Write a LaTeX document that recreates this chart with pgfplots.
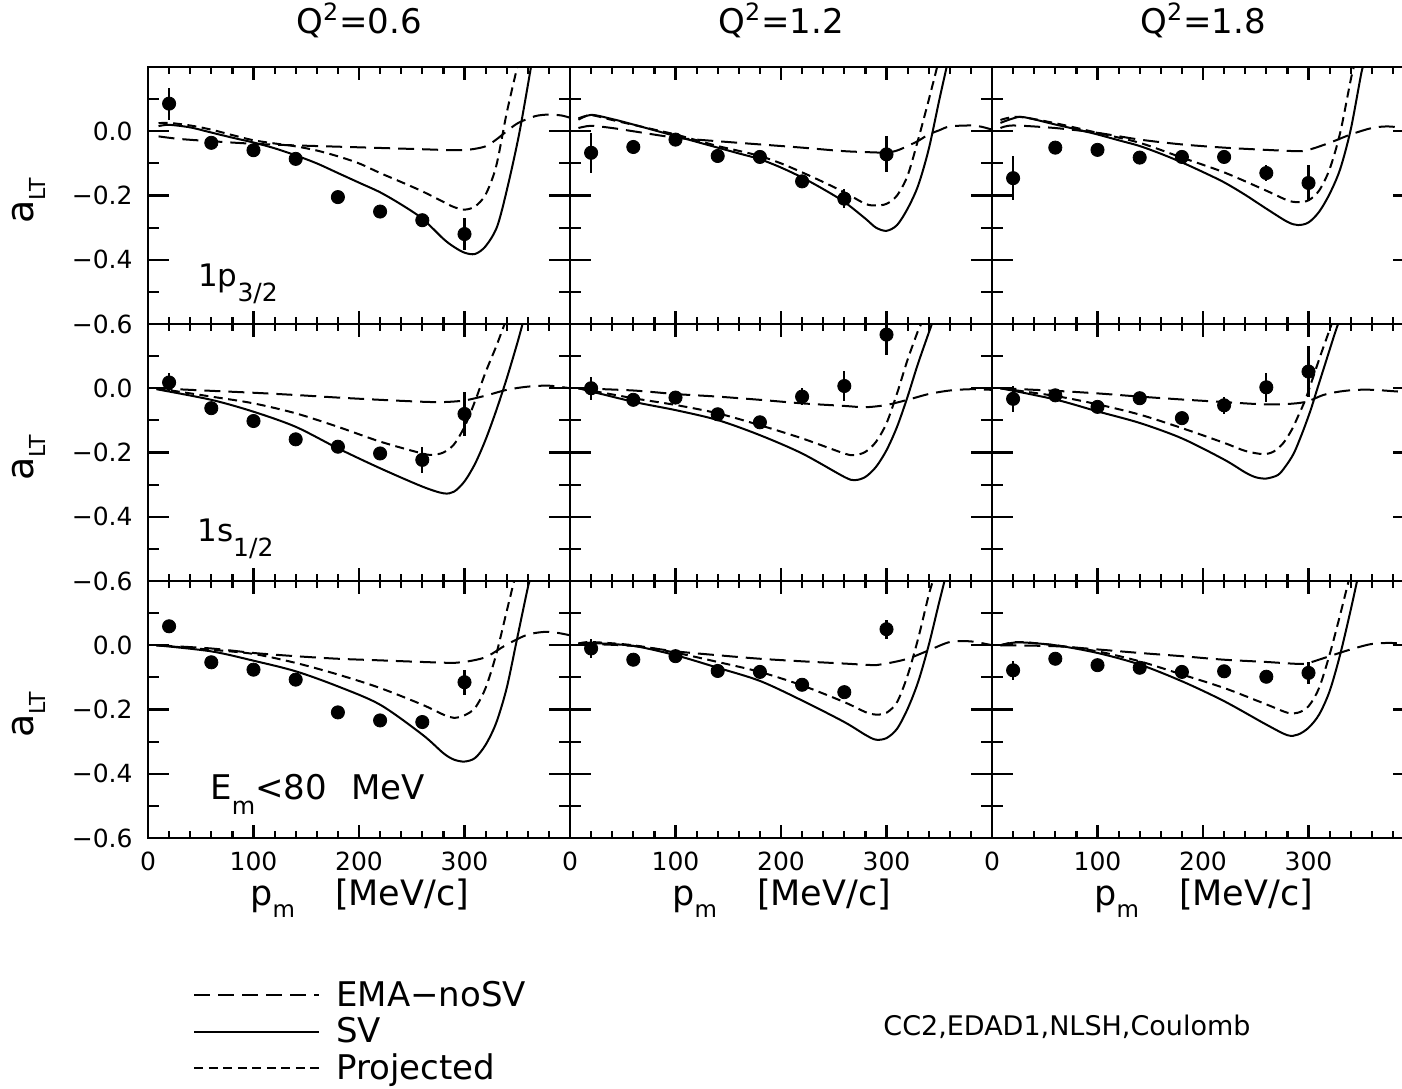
\documentclass[border=0pt]{standalone}
\usepackage{pgfplots}
\pgfplotsset{compat=1.18}
\usepackage{fontspec}
\setmainfont{DejaVu Sans}

\pgfplotsset{
  panel/.style={
    scale only axis, width=211pt, height=128.5pt, anchor=north west,
    xmin=0, xmax=400, ymin=-0.6, ymax=0.2,
    xtick={0,100,200,300,400}, minor x tick num=4,
    ytick={-0.6,-0.4,-0.2,0,0.2}, minor y tick num=1,
    xticklabels={}, yticklabels={},
    tick align=inside, tick pos=both,
    axis line style={line width=1.4pt},
    major tick length=10.5pt, minor tick length=5.5pt,
    every tick/.style={black, line width=1.1pt},
    xtick style={/pgfplots/major tick length=6.5pt, /pgfplots/minor tick length=3.5pt},
    tick label style={font=\fontsize{12.5}{14}\selectfont},
    yticklabel style={anchor=east, inner sep=0pt, xshift=-7.5pt},
    xticklabel style={anchor=north, inner sep=0pt, yshift=-7pt},
    title style={font=\fontsize{17}{20}\selectfont, anchor=base, at={(axis description cs:0.5,1)}, yshift=11pt},
  },
  leftcol/.style={
    yticklabels={−0.6,−0.4,−0.2,0.0,{}},
    ylabel={a\raisebox{-6pt}{\fontsize{11}{12}\selectfont LT}},
    ylabel style={at={(axis description cs:-0.2725,0.48)}, anchor=base, font=\fontsize{19}{21}\selectfont, inner sep=0pt},
  },
  bottomrow/.style={
    xticklabels={0,100,200,300,{}},
    xlabel={p\raisebox{-6pt}{\fontsize{11.5}{12}\selectfont m}\hspace{20pt}[MeV/c]},
    xlabel style={at={(axis description cs:0.2417,-0.261)}, anchor=base west, font=\fontsize{17.5}{20}\selectfont, inner sep=0pt},
  },
  ema/.style={black, line width=1pt, dash pattern=on 8pt off 4pt, smooth, tension=0.5, no markers},
  sv/.style={black, line width=1pt, solid, smooth, tension=0.5, no markers},
  proj/.style={black, line width=1pt, dash pattern=on 4.5pt off 2.75pt, smooth, tension=0.5, no markers},
  pts/.style={black, only marks, mark=*, mark size=3.3pt, mark options={solid, fill=black},
    error bars/.cd, y dir=both, y explicit, error mark=none,
    error bar style={line width=1.1pt, solid, black}},
}

\begin{document}
\begin{tikzpicture}

% ---------------- row 1: 1p3/2 ----------------
\begin{axis}[panel, leftcol, at={(74pt,-33.5pt)}, title={Q\textsuperscript{2}=0.6}]
\addplot[ema] coordinates {(10,-0.016)(30,-0.024)(60,-0.031)(100,-0.039)(140,-0.044)(180,-0.048)(220,-0.052)(260,-0.056)(290,-0.059)(305,-0.057)(320,-0.047)(330,-0.026)(340,0.0)(351,0.026)(367,0.047)(380,0.052)(392,0.049)(400,0.042)};
\addplot[sv] coordinates {(10,0.016)(20,0.02)(40,0.012)(60,-0.004)(80,-0.02)(100,-0.035)(120,-0.053)(140,-0.075)(160,-0.1)(180,-0.13)(200,-0.16)(220,-0.19)(240,-0.228)(260,-0.272)(280,-0.335)(290,-0.36)(300,-0.378)(310,-0.382)(320,-0.358)(331,-0.296)(341,-0.171)(352,-0.005)(363,0.2)};
\addplot[proj] coordinates {(10,0.025)(20,0.026)(40,0.018)(60,0.005)(80,-0.012)(100,-0.028)(120,-0.038)(140,-0.047)(160,-0.06)(180,-0.078)(200,-0.1)(220,-0.13)(240,-0.158)(260,-0.187)(280,-0.22)(290,-0.236)(300,-0.244)(310,-0.234)(320,-0.197)(330,-0.109)(340,0.057)(350,0.2)};
\addplot[pts] coordinates {(20,0.086)+-(0,0.05) (60,-0.036)+-(0,0.01) (100,-0.059)+-(0,0.01) (140,-0.086)+-(0,0.012) (180,-0.205)+-(0,0.01) (220,-0.250)+-(0,0.01) (260,-0.277)+-(0,0.02) (300,-0.320)+-(0,0.05)};
\node[anchor=base west, inner sep=0pt, font=\fontsize{15.5}{18}\selectfont] at (rel axis cs:0.118,0.144) {1p\raisebox{-7.5pt}{\fontsize{12.5}{14}\selectfont 3/2}};
\end{axis}

\begin{axis}[panel, at={(285pt,-33.5pt)}, title={Q\textsuperscript{2}=1.2}]
\addplot[ema] coordinates {(8,0.01)(20,0.017)(40,0.01)(60,0.0)(100,-0.02)(140,-0.031)(180,-0.041)(220,-0.051)(260,-0.062)(290,-0.066)(300,-0.067)(310,-0.06)(320,-0.046)(330,-0.03)(340,-0.01)(350,0.003)(360,0.015)(380,0.018)(390,0.014)(400,0.005)};
\addplot[sv] coordinates {(8,0.036)(20,0.051)(40,0.038)(60,0.021)(80,0.003)(100,-0.015)(120,-0.033)(140,-0.051)(160,-0.069)(180,-0.087)(200,-0.113)(220,-0.144)(240,-0.18)(260,-0.22)(280,-0.272)(290,-0.30)(300,-0.31)(310,-0.292)(320,-0.241)(330,-0.169)(340,-0.056)(350,0.097)(357,0.2)};
\addplot[proj] coordinates {(8,0.04)(20,0.05)(40,0.035)(60,0.02)(80,0.005)(100,-0.01)(120,-0.028)(140,-0.046)(160,-0.061)(180,-0.077)(200,-0.1)(220,-0.128)(240,-0.158)(260,-0.19)(280,-0.226)(290,-0.231)(300,-0.226)(310,-0.2)(320,-0.138)(330,-0.026)(340,0.097)(348,0.2)};
\addplot[pts] coordinates {(20,-0.067)+-(0,0.062) (60,-0.049)+-(0,0.01) (100,-0.026)+-(0,0.01) (140,-0.077)+-(0,0.01) (180,-0.080)+-(0,0.012) (220,-0.156)+-(0,0.02) (260,-0.210)+-(0,0.03) (300,-0.072)+-(0,0.056)};
\end{axis}

\begin{axis}[panel, at={(496pt,-33.5pt)}, title={Q\textsuperscript{2}=1.8}]
\addplot[ema] coordinates {(8,0.01)(20,0.018)(60,0.01)(100,-0.005)(140,-0.026)(180,-0.041)(220,-0.051)(260,-0.058)(290,-0.062)(300,-0.058)(320,-0.036)(340,-0.01)(360,0.01)(375,0.015)(390,0.01)(400,0.003)};
\addplot[sv] coordinates {(8,0.026)(20,0.04)(30,0.044)(60,0.021)(80,0.006)(100,-0.01)(120,-0.028)(140,-0.046)(160,-0.07)(180,-0.097)(200,-0.127)(220,-0.159)(240,-0.198)(260,-0.241)(280,-0.282)(290,-0.292)(300,-0.284)(310,-0.251)(320,-0.195)(330,-0.118)(340,0.005)(350,0.18)(352,0.2)};
\addplot[proj] coordinates {(8,0.035)(25,0.045)(60,0.025)(100,-0.005)(140,-0.036)(180,-0.082)(220,-0.128)(260,-0.185)(280,-0.215)(290,-0.221)(300,-0.215)(310,-0.185)(320,-0.118)(330,-0.005)(340,0.16)(343,0.2)};
\addplot[pts] coordinates {(20,-0.146)+-(0,0.068) (60,-0.051)+-(0,0.015) (100,-0.058)+-(0,0.01) (140,-0.082)+-(0,0.01) (180,-0.080)+-(0,0.01) (220,-0.080)+-(0,0.01) (260,-0.130)+-(0,0.025) (300,-0.161)+-(0,0.056)};
\end{axis}

% ---------------- row 2: 1s1/2 ----------------
\begin{axis}[panel, leftcol, at={(74pt,-162pt)}]
\addplot[ema] coordinates {(8,0.0)(60,-0.008)(100,-0.014)(140,-0.021)(180,-0.029)(220,-0.036)(260,-0.042)(280,-0.043)(300,-0.038)(320,-0.023)(340,-0.005)(360,0.005)(380,0.008)(400,0.0)};
\addplot[sv] coordinates {(8,-0.003)(60,-0.036)(100,-0.073)(140,-0.12)(180,-0.187)(220,-0.249)(260,-0.306)(280,-0.327)(290,-0.322)(300,-0.29)(310,-0.235)(320,-0.16)(330,-0.07)(340,0.03)(350,0.14)(355,0.2)};
\addplot[proj] coordinates {(8,0.0)(60,-0.026)(100,-0.047)(140,-0.078)(180,-0.12)(220,-0.166)(260,-0.203)(270,-0.207)(280,-0.2)(290,-0.175)(300,-0.12)(310,-0.04)(320,0.05)(330,0.13)(338,0.2)};
\addplot[pts] coordinates {(20,0.018)+-(0,0.03) (60,-0.062)+-(0,0.01) (100,-0.102)+-(0,0.012) (140,-0.159)+-(0,0.01) (180,-0.182)+-(0,0.012) (220,-0.203)+-(0,0.02) (260,-0.223)+-(0,0.04) (300,-0.080)+-(0,0.068)};
\node[anchor=base west, inner sep=0pt, font=\fontsize{15.5}{18}\selectfont] at (rel axis cs:0.116,0.152) {1s\raisebox{-7.5pt}{\fontsize{12.5}{14}\selectfont 1/2}};
\end{axis}

\begin{axis}[panel, at={(285pt,-162pt)}]
\addplot[ema] coordinates {(8,0.0)(60,-0.007)(100,-0.018)(140,-0.026)(180,-0.036)(220,-0.047)(260,-0.055)(280,-0.059)(300,-0.052)(320,-0.036)(340,-0.018)(360,-0.007)(380,-0.003)(400,-0.005)};
\addplot[sv] coordinates {(8,0.0)(60,-0.042)(100,-0.068)(140,-0.099)(180,-0.146)(220,-0.203)(260,-0.276)(270,-0.286)(280,-0.276)(290,-0.245)(300,-0.193)(310,-0.12)(320,-0.026)(330,0.078)(343,0.2)};
\addplot[proj] coordinates {(8,0.0)(60,-0.031)(100,-0.052)(140,-0.078)(180,-0.115)(220,-0.156)(260,-0.203)(270,-0.208)(280,-0.198)(290,-0.167)(300,-0.109)(310,-0.016)(320,0.089)(330,0.18)(333,0.2)};
\addplot[pts] coordinates {(20,0.0)+-(0,0.036) (60,-0.036)+-(0,0.01) (100,-0.029)+-(0,0.01) (140,-0.081)+-(0,0.01) (180,-0.106)+-(0,0.015) (220,-0.026)+-(0,0.027) (260,0.007)+-(0,0.046) (300,0.167)+-(0,0.063)};
\end{axis}

\begin{axis}[panel, at={(496pt,-162pt)}]
\addplot[ema] coordinates {(8,0.0)(60,-0.008)(100,-0.016)(140,-0.026)(180,-0.035)(220,-0.043)(257,-0.05)(280,-0.049)(298,-0.042)(314,-0.021)(330,-0.01)(346,-0.005)(362,-0.005)(384,-0.01)(400,-0.012)};
\addplot[sv] coordinates {(8,0.0)(60,-0.035)(100,-0.072)(140,-0.108)(180,-0.156)(220,-0.222)(240,-0.262)(250,-0.277)(260,-0.281)(271,-0.27)(278,-0.244)(286,-0.203)(294,-0.14)(302,-0.068)(308,-0.005)(316,0.078)(324,0.161)(328,0.2)};
\addplot[proj] coordinates {(8,0.0)(60,-0.024)(100,-0.05)(140,-0.082)(180,-0.124)(220,-0.17)(240,-0.195)(257,-0.205)(267,-0.197)(276,-0.171)(284,-0.13)(290,-0.088)(297,-0.036)(303,0.021)(311,0.099)(320,0.182)(322,0.2)};
\addplot[pts] coordinates {(20,-0.033)+-(0,0.04) (60,-0.022)+-(0,0.012) (100,-0.058)+-(0,0.01) (140,-0.031)+-(0,0.012) (180,-0.093)+-(0,0.01) (220,-0.053)+-(0,0.027) (260,0.003)+-(0,0.045) (300,0.052)+-(0,0.08)};
\end{axis}

% ---------------- row 3: Em < 80 MeV ----------------
\begin{axis}[panel, leftcol, bottomrow, at={(74pt,-290.5pt)},
  legend style={draw=none, fill=none, at={(axis description cs:0.1066,-0.5405)}, anchor=north west,
    inner sep=0pt, row sep=0pt, font=\fontsize{17}{19}\selectfont},
  legend cell align=left,
  legend image code/.code={\draw[#1] (0pt,0pt) -- (62.5pt,0pt); \path (68.5pt,0pt);}]
\addplot[ema] coordinates {(8,0.0)(60,-0.010)(100,-0.024)(140,-0.034)(180,-0.042)(220,-0.047)(260,-0.052)(290,-0.055)(300,-0.052)(320,-0.037)(340,0.002)(360,0.033)(380,0.042)(400,0.031)};
\addlegendentry{EMA−noSV}
\addplot[sv] coordinates {(8,0.0)(60,-0.019)(100,-0.048)(140,-0.081)(180,-0.128)(220,-0.185)(260,-0.278)(280,-0.336)(290,-0.356)(300,-0.362)(310,-0.351)(320,-0.31)(330,-0.242)(340,-0.133)(350,0.023)(360,0.179)(362,0.2)};
\addlegendentry{SV}
\addplot[proj] coordinates {(8,0.0)(60,-0.014)(100,-0.027)(140,-0.055)(180,-0.091)(220,-0.133)(260,-0.185)(280,-0.216)(290,-0.226)(300,-0.218)(310,-0.195)(320,-0.133)(330,-0.029)(340,0.106)(347,0.2)};
\addlegendentry{Projected}
\addplot[forget plot, pts] coordinates {(20,0.059)+-(0,0.02) (60,-0.053)+-(0,0.01) (100,-0.076)+-(0,0.01) (140,-0.107)+-(0,0.01) (180,-0.209)+-(0,0.01) (220,-0.234)+-(0,0.01) (260,-0.239)+-(0,0.01) (300,-0.115)+-(0,0.039)};
\node[anchor=base west, inner sep=0pt, font=\fontsize{17}{20}\selectfont] at (rel axis cs:0.147,0.148) {E\raisebox{-7.5pt}{\fontsize{12}{13}\selectfont m}<80\hspace{12pt}MeV};
\end{axis}

\begin{axis}[panel, bottomrow, at={(285pt,-290.5pt)}]
\addplot[ema] coordinates {(8,0.005)(60,-0.002)(100,-0.019)(140,-0.031)(180,-0.042)(220,-0.05)(260,-0.057)(290,-0.062)(300,-0.057)(320,-0.042)(340,-0.016)(360,0.01)(380,0.012)(400,0.0)};
\addplot[sv] coordinates {(8,0.005)(20,0.007)(60,-0.002)(100,-0.031)(140,-0.07)(180,-0.111)(220,-0.172)(260,-0.239)(280,-0.279)(290,-0.294)(300,-0.289)(310,-0.26)(320,-0.198)(330,-0.114)(340,0.0)(350,0.135)(355,0.2)};
\addplot[proj] coordinates {(8,0.005)(20,0.01)(60,0.0)(100,-0.023)(140,-0.052)(180,-0.083)(220,-0.125)(260,-0.177)(280,-0.208)(290,-0.216)(300,-0.21)(310,-0.177)(320,-0.094)(330,0.021)(340,0.156)(344,0.2)};
\addplot[pts] coordinates {(20,-0.010)+-(0,0.03) (60,-0.045)+-(0,0.01) (100,-0.034)+-(0,0.01) (140,-0.080)+-(0,0.01) (180,-0.083)+-(0,0.01) (220,-0.123)+-(0,0.01) (260,-0.146)+-(0,0.01) (300,0.050)+-(0,0.03)};
\end{axis}

\begin{axis}[panel, bottomrow, at={(496pt,-290.5pt)}]
\addplot[ema] coordinates {(8,0.0)(60,-0.003)(100,-0.013)(140,-0.024)(180,-0.034)(220,-0.045)(260,-0.052)(290,-0.058)(300,-0.055)(320,-0.034)(340,-0.013)(360,0.004)(380,0.007)(400,0.0)};
\addplot[sv] coordinates {(8,0.0)(25,0.009)(60,0.0)(100,-0.024)(140,-0.06)(180,-0.112)(220,-0.174)(260,-0.247)(280,-0.28)(290,-0.278)(300,-0.257)(310,-0.216)(320,-0.143)(330,-0.029)(340,0.11)(346,0.2)};
\addplot[proj] coordinates {(8,0.0)(25,0.01)(60,0.0)(100,-0.019)(140,-0.05)(180,-0.091)(220,-0.133)(260,-0.184)(280,-0.21)(290,-0.21)(300,-0.19)(310,-0.133)(320,-0.029)(330,0.095)(338,0.2)};
\addplot[pts] coordinates {(20,-0.078)+-(0,0.03) (60,-0.042)+-(0,0.01) (100,-0.062)+-(0,0.01) (140,-0.070)+-(0,0.01) (180,-0.083)+-(0,0.01) (220,-0.081)+-(0,0.01) (260,-0.098)+-(0,0.01) (300,-0.086)+-(0,0.035)};
\end{axis}

% model tag
\node[anchor=base west, inner sep=0pt, font=\fontsize{13.5}{16}\selectfont] at (441.5pt,-517.5pt) {CC2,EDAD1,NLSH,Coulomb};

\pgfresetboundingbox
\path[use as bounding box] (0,0) rectangle (701pt,-544pt);
\end{tikzpicture}
\end{document}
